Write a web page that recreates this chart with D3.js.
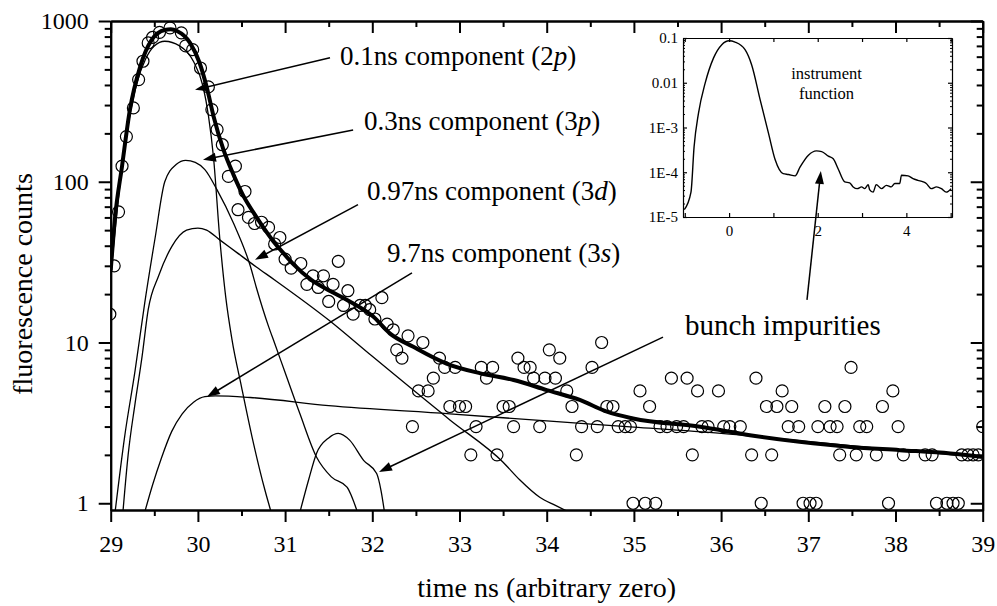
<!DOCTYPE html>
<html>
<head>
<meta charset="utf-8">
<script src="https://cdn.jsdelivr.net/npm/d3@7"></script>
<style>
  body { margin: 0; background: #fff; }
  svg text { font-family: "Liberation Serif", "Times New Roman", serif; fill: #000; }
</style>
</head>
<body>
<div id="chart"></div>
<script>
// measured counts (time ns, counts)
var dataT = [28.99,29.04,29.09,29.13,29.18,29.26,29.32,29.37,29.43,29.48,29.56,29.68,29.81,29.86,29.94,
  30.03,30.12,30.16,30.22,30.28,30.35,30.43,30.46,30.54,30.58,30.65,30.73,30.81,30.88,30.94,
  31.0,31.07,31.18,31.25,31.32,31.38,31.44,31.5,31.55,31.61,31.67,31.72,31.78,31.86,31.92,31.97,
  32.03,32.11,32.17,32.24,32.28,32.34,32.41,32.46,32.53,32.58,32.64,32.7,32.77,32.83,32.89,32.95,
  33.0,33.07,33.13,33.19,33.25,33.31,33.38,33.43,33.5,33.57,33.62,33.67,33.74,33.81,33.85,33.92,33.98,
  34.03,34.1,34.15,34.23,34.29,34.34,34.4,34.52,34.58,34.63,34.69,34.76,34.82,34.9,34.96,34.99,
  35.07,35.13,35.18,35.25,35.3,35.38,35.43,35.49,35.57,35.61,35.67,35.73,35.78,35.85,35.97,
  36.03,36.1,36.22,36.35,36.4,36.46,36.52,36.58,36.64,36.7,36.77,36.81,36.89,36.94,
  37.02,37.09,37.11,37.19,37.25,37.33,37.36,37.42,37.49,37.55,37.59,37.67,37.78,37.85,37.92,37.97,
  38.03,38.09,38.34,38.42,38.47,38.59,38.66,38.72,38.76,38.83,38.89,38.95,39.0];
var dataC = [15,30,65,125,191,288,432,562,731,790,850,906,844,700,663,
  510,389,281,211,170,108,125,67,87,60,55,56,52,41,45,
  33,29,31,23,26,22,26,18,23,32,17,21,15,17,17,16,
  14,19,13,12,9,8,11,3,5,10,5,6,8,7,4,7,
  4,4,2,3,7,6,7,2,4,4,3,8,7,7,6,3,6,
  9,6,8,5,4,2,3,7,3,10,4,4,3,3,3,1,
  5,1,4,1,3,3,6,3,3,6,2,5,3,3,5,
  3,3,3,2,6,1,4,2,4,5,3,4,3,1,
  1,1,3,4,3,3,2,4,7,2,3,3,2,4,1,5,
  3,2,2,2,1,1,1,1,2,2,2,2,3];

// fitted total
var fitT = [29.0,29.05,29.13,29.22,29.34,29.47,29.62,29.69,29.76,29.91,30.02,30.1,30.18,30.29,30.41,30.52,
  30.64,30.75,30.86,30.98,31.1,31.3,31.51,31.71,32.01,32.2,32.47,32.85,33.24,33.62,34.0,34.38,34.69,
  34.99,35.76,36.33,36.9,37.48,38.05,38.63,39.0];
var fitV = [28,60,125,280,525,764,880,888,866,731,548,390,255,160,110,82,
  64,52,43,36,30.5,24.5,21,18.4,14.5,11.4,9.4,7.4,6.43,5.84,5.06,4.39,3.71,
  3.37,2.99,2.65,2.41,2.24,2.14,2.04,1.94];

// components
var c2pT = [29.0,29.1,29.2,29.3,29.4,29.5,29.62,29.79,29.95,30.06,30.12,30.18,30.25,30.32,30.39,30.5,30.62,30.77,30.84];
var c2pV = [26,90,225,410,580,700,748,700,560,390,260,140,45,19,10.5,5.3,2.6,1.2,0.88];
var c3pT = [29.05,29.16,29.28,29.39,29.51,29.62,29.75,29.86,29.97,30.08,30.22,30.41,30.6,30.67,30.81,30.88,31.0,31.17,31.36,31.53,31.71,31.83];
var c3pV = [0.88,2.6,6.7,17.6,45,100,128,136,132,119,89,55,30,22,12.6,9.9,6.5,3.6,1.94,1.46,1.26,0.88];
var c3dT = [29.14,29.2,29.28,29.36,29.43,29.55,29.7,29.87,30.0,30.1,30.25,30.44,30.67,30.88,31.5,32.0,32.89,33.5,33.69,33.92,34.1,34.22];
var c3dV = [0.88,2.0,4.2,8.2,16,26,39.5,50,51.5,50,43.5,36.5,29.5,24.5,13.8,8.2,3.3,1.8,1.4,1.09,0.97,0.9];
var c3sT = [29.39,29.48,29.58,29.7,29.82,29.95,30.08,30.2,30.6,31.5,32.89,34.0,35.0,36.0,37.0,38.0,39.0];
var c3sV = [0.88,1.3,1.9,2.8,3.6,4.25,4.6,4.65,4.55,4.05,3.6,3.25,2.98,2.72,2.42,2.15,1.93];
var bumpT = [31.17,31.27,31.36,31.5,31.61,31.74,31.9,32.05,32.1,32.14];
var bumpV = [0.88,1.4,2.04,2.55,2.72,2.47,1.85,1.53,1.2,0.88];

// instrument function (inset)
var instT = [-1.01,-0.86,-0.79,-0.69,-0.54,-0.35,-0.165,0,0.135,0.36,0.51,0.7,0.89,1.04,1.22,1.34,1.49,1.6,
  1.79,1.97,2.09,2.24,2.35,2.46,2.61,2.72,2.8,2.89,2.99,3.06,3.14,3.17,3.25,3.32,3.44,3.55,3.66,3.74,
  3.85,3.89,4.04,4.15,4.26,4.38,4.45,4.56,4.68,4.79,4.9,5.01];
var instV = [1.46e-5,3.6e-5,3.7e-4,2.1e-3,9.8e-3,0.036,0.071,0.087,0.081,0.055,0.025,4.2e-3,7.4e-4,1.9e-4,9.3e-5,8.9e-5,8.3e-5,1.3e-4,
  2.4e-4,3.0e-4,2.9e-4,2.3e-4,2.0e-4,1.2e-4,6.1e-5,5.8e-5,4.7e-5,4.3e-5,4.7e-5,4.3e-5,5.3e-5,4.1e-5,3.6e-5,5.3e-5,4.3e-5,5.1e-5,4.7e-5,5.6e-5,
  5.6e-5,8.6e-5,8.3e-5,7.2e-5,6.6e-5,6.1e-5,5.6e-5,4.3e-5,4.7e-5,4.3e-5,3.6e-5,4.3e-5];

// labels: text, italic part, text position [t, v], arrow tail [t, v], arrow tip [t, v]
var noteText = ["0.1ns component (2", "0.3ns component (3", "0.97ns component (3", "9.7ns component (3"];
var noteItalic = ["p", "p", "d", "s"];
var notePos = [[31.63,534],[31.905,210],[31.94,77],[32.17,31.7]];
var noteTail = [[31.515,591],[31.78,210],[31.836,72],[32.455,27.1]];
var noteTip = [[29.967,373],[30.058,137],[30.655,32.7],[30.104,4.59]];

var xTicks = d3.range(29, 40);
var yTicks = [1, 10, 100, 1000];
var insetXTicks = [-1, 0, 1, 2, 3, 4, 5];
var insetYTicks = [1e-5, 1e-4, 1e-3, 0.01, 0.1];
var insetYLabels = ["1E-5", "1E-4", "1E-3", "0.01", "0.1"];

function zip(a, b) { return a.map(function(d, i) { return [d, b[i]]; }); }
function logMinors(lo, hi) {
  var out = [];
  for (var d = lo; d < hi; d *= 10) for (var k = 2; k <= 9; k++) out.push(k * d);
  return out;
}

var svg = d3.select("#chart").append("svg").attr("width", 997).attr("height", 606);

var x = d3.scaleLinear().domain([29, 39]).range([110.7, 982.7]);
var y = d3.scaleLog().domain([0.908, 1000]).range([510, 21]);

svg.append("clipPath").attr("id", "plotClip").append("rect")
  .attr("x", x(29)).attr("y", y(1000)).attr("width", x(39) - x(29)).attr("height", y(0.908) - y(1000));

var plot = svg.append("g").attr("clip-path", "url(#plotClip)");

var line = d3.line().x(function(d){ return x(d[0]); }).y(function(d){ return y(d[1]); }).curve(d3.curveMonotoneX);

[[c2pT,c2pV],[c3pT,c3pV],[c3dT,c3dV],[c3sT,c3sV],[bumpT,bumpV]].forEach(function(c){
  plot.append("path").datum(zip(c[0], c[1])).attr("d", line)
    .attr("fill", "none").attr("stroke", "#000").attr("stroke-width", 1.3);
});

plot.append("path").datum(zip(fitT, fitV)).attr("d", line)
  .attr("fill", "none").attr("stroke", "#000").attr("stroke-width", 4).attr("stroke-linejoin", "round");

plot.selectAll("circle.pt").data(zip(dataT, dataC)).enter().append("circle")
  .attr("class", "pt")
  .attr("cx", function(d){ return x(d[0]); })
  .attr("cy", function(d){ return y(d[1]); })
  .attr("r", 6)
  .attr("fill", "none").attr("stroke", "#000").attr("stroke-width", 1.2);

// axes
function styleAxis(g, fs, w) {
  g.attr("font-family", null).attr("font-size", null);
  g.selectAll("path").attr("stroke-width", w);
  g.selectAll("line").attr("stroke-width", w);
  g.selectAll("text").style("font-size", fs + "px");
}

var yMinor = logMinors(1, 1000);
var xMinor = d3.range(29.5, 39, 1);

svg.append("g").attr("transform", "translate(0," + y(0.908) + ")")
  .call(d3.axisBottom(x).tickValues(xTicks).tickSize(12).tickPadding(13).tickSizeOuter(0).tickFormat(d3.format("d")))
  .call(styleAxis, 24, 2);
svg.append("g").attr("transform", "translate(0," + y(0.908) + ")")
  .call(d3.axisBottom(x).tickValues(xMinor).tickSize(6).tickSizeOuter(0).tickFormat(""))
  .call(styleAxis, 24, 2);
svg.append("g").attr("transform", "translate(0," + y(1000) + ")")
  .call(d3.axisTop(x).tickValues(xTicks).tickSize(-12).tickSizeOuter(0).tickFormat(""))
  .call(styleAxis, 24, 2);
svg.append("g").attr("transform", "translate(0," + y(1000) + ")")
  .call(d3.axisTop(x).tickValues(xMinor).tickSize(-6).tickSizeOuter(0).tickFormat(""))
  .call(styleAxis, 24, 2);

svg.append("g").attr("transform", "translate(" + x(29) + ",0)")
  .call(d3.axisLeft(y).tickValues(yTicks).tickSize(12).tickPadding(10).tickSizeOuter(0).tickFormat(d3.format("d")))
  .call(styleAxis, 24, 2);
svg.append("g").attr("transform", "translate(" + x(29) + ",0)")
  .call(d3.axisLeft(y).tickValues(yMinor).tickSize(6).tickSizeOuter(0).tickFormat(""))
  .call(styleAxis, 24, 2);
svg.append("g").attr("transform", "translate(" + x(39) + ",0)")
  .call(d3.axisRight(y).tickValues(yTicks).tickSize(-12).tickSizeOuter(0).tickFormat(""))
  .call(styleAxis, 24, 2);
svg.append("g").attr("transform", "translate(" + x(39) + ",0)")
  .call(d3.axisRight(y).tickValues(yMinor).tickSize(-6).tickSizeOuter(0).tickFormat(""))
  .call(styleAxis, 24, 2);

// axis titles
svg.append("text").attr("x", (x(29) + x(39)) / 2 + 0).attr("y", 597)
  .attr("text-anchor", "middle").style("font-size", "28px").text("time ns (arbitrary zero)");
svg.append("text").attr("transform", "translate(32," + 284 + ") rotate(-90)")
  .attr("text-anchor", "middle").style("font-size", "28px").text("fluorescence counts");

// annotations
function arrow(x1, y1, x2, y2) {
  var a = Math.atan2(y2 - y1, x2 - x1), L = 13, Wd = 4.5;
  svg.append("line").attr("x1", x1).attr("y1", y1).attr("x2", x2 - Math.cos(a) * 8).attr("y2", y2 - Math.sin(a) * 8)
    .attr("stroke", "#000").attr("stroke-width", 1.5);
  var bx = x2 - Math.cos(a) * L, by = y2 - Math.sin(a) * L;
  svg.append("path").attr("d", "M" + x2 + "," + y2 +
      "L" + (bx - Math.sin(a) * Wd) + "," + (by + Math.cos(a) * Wd) +
      "L" + (bx + Math.sin(a) * Wd) + "," + (by - Math.cos(a) * Wd) + "Z")
    .attr("fill", "#000");
}

noteText.forEach(function(t, i){
  var tx = svg.append("text").attr("x", x(notePos[i][0])).attr("y", y(notePos[i][1])).style("font-size", "27px");
  tx.append("tspan").text(t);
  tx.append("tspan").style("font-style", "italic").text(noteItalic[i]);
  tx.append("tspan").text(")");
  arrow(x(noteTail[i][0]), y(noteTail[i][1]), x(noteTip[i][0]), y(noteTip[i][1]));
});

// inset
var ix = d3.scaleLinear().domain([-1.04, 5.03]).range([683, 952]);
var iy = d3.scaleLog().domain([1e-5, 0.1]).range([217, 38]);
var inset = svg.append("g");
inset.append("rect").attr("x", ix(-1.04)).attr("y", iy(0.1)).attr("width", ix(5.03) - ix(-1.04)).attr("height", iy(1e-5) - iy(0.1))
  .attr("fill", "#fff");
svg.append("clipPath").attr("id", "insetClip").append("rect")
  .attr("x", ix(-1.04)).attr("y", iy(0.1)).attr("width", ix(5.03) - ix(-1.04)).attr("height", iy(1e-5) - iy(0.1));

var iline = d3.line().x(function(d){ return ix(d[0]); }).y(function(d){ return iy(d[1]); }).curve(d3.curveMonotoneX);
inset.append("path").datum(zip(instT, instV)).attr("d", iline).attr("clip-path", "url(#insetClip)")
  .attr("fill", "none").attr("stroke", "#000").attr("stroke-width", 1.4);

var iyMinor = logMinors(1e-5, 0.1);
inset.append("g").attr("transform", "translate(0," + iy(1e-5) + ")")
  .call(d3.axisBottom(ix).tickValues(insetXTicks).tickSize(-4).tickPadding(8).tickSizeOuter(0)
    .tickFormat(function(d){ return (d >= 0 && d % 2 === 0) ? d : ""; }))
  .call(styleAxis, 15, 1.2);
inset.append("g").attr("transform", "translate(0," + iy(0.1) + ")")
  .call(d3.axisTop(ix).tickValues(insetXTicks).tickSize(-4).tickSizeOuter(0).tickFormat(""))
  .call(styleAxis, 15, 1.2);
inset.append("g").attr("transform", "translate(" + ix(-1.04) + ",0)")
  .call(d3.axisLeft(iy).tickValues(insetYTicks).tickSize(-4).tickPadding(5).tickSizeOuter(0)
    .tickFormat(function(d, i){ return insetYLabels[i]; }))
  .call(styleAxis, 15, 1.2);
inset.append("g").attr("transform", "translate(" + ix(-1.04) + ",0)")
  .call(d3.axisLeft(iy).tickValues(iyMinor).tickSize(-2).tickSizeOuter(0).tickFormat(""))
  .call(styleAxis, 15, 1);
inset.append("g").attr("transform", "translate(" + ix(5.03) + ",0)")
  .call(d3.axisRight(iy).tickValues(insetYTicks).tickSize(-4).tickSizeOuter(0).tickFormat(""))
  .call(styleAxis, 15, 1.2);
inset.append("g").attr("transform", "translate(" + ix(5.03) + ",0)")
  .call(d3.axisRight(iy).tickValues(iyMinor).tickSize(-2).tickSizeOuter(0).tickFormat(""))
  .call(styleAxis, 15, 1);

inset.append("text").attr("x", ix(2.2)).attr("y", iy(0.012)).attr("text-anchor", "middle")
  .style("font-size", "16.5px").text("instrument");
inset.append("text").attr("x", ix(2.2)).attr("y", iy(0.0044)).attr("text-anchor", "middle")
  .style("font-size", "16.5px").text("function");

// bunch impurities label + arrows
svg.append("text").attr("x", x(35.586)).attr("y", y(11.2)).style("font-size", "29px").text("bunch impurities");
arrow(x(36.985), y(18.4), ix(2.07), iy(1.07e-4));
arrow(x(35.334), y(10.8), x(32.077), y(1.567));
</script>
</body>
</html>
